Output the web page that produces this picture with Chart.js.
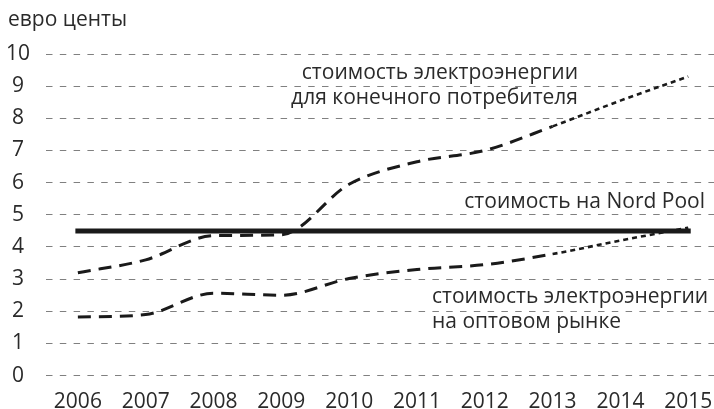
<!DOCTYPE html>
<html>
<head>
<meta charset="utf-8">
<script src="https://cdn.jsdelivr.net/npm/chart.js@4/dist/chart.umd.min.js"></script>
<style>
  html, body { margin: 0; padding: 0; background: #fff; }
  #wrap { width: 714px; height: 409px; position: relative; }
</style>
</head>
<body>
<div id="wrap"><canvas id="chart"></canvas></div>
<script>
// years on the x axis
const years = [2006, 2007, 2008, 2009, 2010, 2011, 2012, 2013, 2014, 2015];
const yTicks = [0, 1, 2, 3, 4, 5, 6, 7, 8, 9, 10];

// euro cents
const endUserPrice = [3.2, 3.6, 4.35, 4.38, 5.95, 6.65, 7.0, 7.75, 8.55, 9.3];
const wholesalePrice = [1.82, 1.9, 2.56, 2.5, 3.02, 3.3, 3.45, 3.78, 4.2, 4.6];
const nordPoolPrice = [4.5, 4.5, 4.5, 4.5, 4.5, 4.5, 4.5, 4.5, 4.5, 4.5];
const forecastFrom = 2013; // dotted after this year

const textColor = '#2a2a2a';
const lineColor = '#1a1a1a';
const fontFamily = '"Open Sans", "Noto Sans", sans-serif';
const fontSize = 21;

function toPoints(vals) {
  return years.map((y, i) => ({ x: y, y: vals[i] }));
}

const dashedThenDotted = {
  borderDash: ctx => ctx.p0.parsed.x >= forecastFrom ? [5, 4] : [13, 8],
  borderWidth: ctx => ctx.p0.parsed.x >= forecastFrom ? 2.6 : 3
};

const labelsPlugin = {
  id: 'labels',
  afterDraw(chart) {
    const c = chart.ctx;
    c.save();
    c.fillStyle = textColor;
    c.font = fontSize + 'px ' + fontFamily;
    c.textBaseline = 'middle';
    c.textAlign = 'left';
    c.fillText('евро центы', 8, 20);
    c.textAlign = 'right';
    c.fillText('стоимость электроэнергии', 578, 73);
    c.fillText('для конечного потребителя', 578, 98);
    c.fillText('стоимость на Nord Pool', 705, 202);
    c.textAlign = 'left';
    c.fillText('стоимость электроэнергии', 432, 297);
    c.fillText('на оптовом рынке', 432, 322);
    c.restore();
  }
};

new Chart(document.getElementById('chart'), {
  type: 'line',
  data: {
    datasets: [
      {
        label: 'стоимость на Nord Pool',
        data: toPoints(nordPoolPrice),
        borderColor: lineColor,
        borderWidth: 5,
        pointRadius: 0,
        borderCapStyle: 'square'
      },
      {
        label: 'стоимость электроэнергии для конечного потребителя',
        data: toPoints(endUserPrice),
        borderColor: lineColor,
        pointRadius: 0,
        cubicInterpolationMode: 'monotone',
        segment: dashedThenDotted
      },
      {
        label: 'стоимость электроэнергии на оптовом рынке',
        data: toPoints(wholesalePrice),
        borderColor: lineColor,
        pointRadius: 0,
        cubicInterpolationMode: 'monotone',
        segment: dashedThenDotted
      }
    ]
  },
  options: {
    responsive: true,
    maintainAspectRatio: false,
    animation: false,
    layout: { padding: { top: 54, right: 0, left: 0, bottom: 0 } },
    plugins: {
      legend: { display: false },
      tooltip: { enabled: false }
    },
    scales: {
      x: {
        type: 'linear',
        min: 2005.53,
        max: 2015.38,
        afterBuildTicks: scale => { scale.ticks = years.map(v => ({ value: v })); },
        afterFit: scale => {
          scale.height = 33.4;
          scale.paddingLeft = 0;
          scale.paddingRight = 0;
        },
        grid: { display: false },
        border: { display: false },
        ticks: {
          color: textColor,
          font: { family: fontFamily, size: fontSize },
          padding: 6,
          maxRotation: 0,
          autoSkip: false,
          callback: v => String(v)
        }
      },
      y: {
        min: 0,
        max: 10,
        afterBuildTicks: scale => { scale.ticks = yTicks.map(v => ({ value: v })); },
        afterFit: scale => {
          scale.width = 46;
          scale.paddingTop = 0;
          scale.paddingBottom = 0;
        },
        grid: { color: '#808080', lineWidth: 1, drawTicks: false },
        border: { display: false, dash: [6.5, 7.3] },
        ticks: {
          color: textColor,
          font: { family: fontFamily, size: fontSize },
          padding: 16,
          crossAlign: 'center'
        }
      }
    }
  },
  plugins: [labelsPlugin]
});
</script>
</body>
</html>
